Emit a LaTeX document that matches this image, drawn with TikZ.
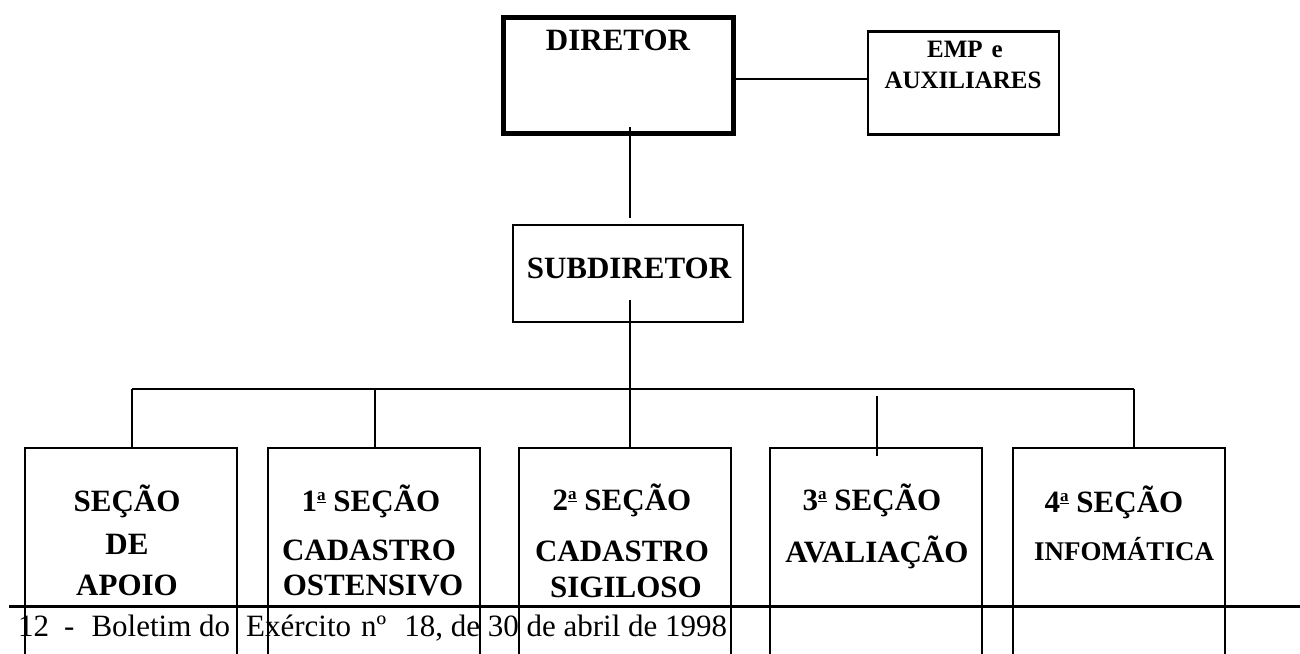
\documentclass[tikz,border=0pt]{standalone}
\usepackage{fontspec}
\setmainfont{Liberation Serif}
\newcommand\myord{\raisebox{10.5pt}{\fontsize{17}{17}\selectfont\underline{a}}}
\begin{document}
\begin{tikzpicture}[x=1pt,y=-1pt,
  conn/.style={line width=2.8pt},
  box/.style={draw,line width=2.8pt,inner sep=0pt,outer sep=0pt},
  bigbox/.style={draw,line width=5pt,inner sep=0pt,outer sep=0pt},
  lbl/.style={font=\fontsize{31}{36}\selectfont\bfseries,inner sep=0pt,anchor=base},
  small/.style={font=\fontsize{25}{30}\selectfont\bfseries,inner sep=0pt,anchor=base},
  foot/.style={font=\fontsize{31}{36}\selectfont,inner sep=0pt,anchor=base west}]
\clip (0,0) rectangle (1300,653);
\fill[white] (0,0) rectangle (1300,653);
% top level
\node[bigbox,minimum width=230pt,minimum height=116pt] (dir) at (618,75) {};
\node[lbl] (dirt) at (618,50) {DIRETOR};
\node[box,minimum width=191pt,minimum height=103pt] (emp) at (963.5,83) {};
\node[small] (empt1) at (965,57) {EMP\hspace{9pt}e};
\node[small] (empt2) at (963,88) {AUXILIARES};
\node[box,minimum width=230pt,minimum height=97pt] (sub) at (628,273.5) {};
\node[lbl] (subt) at (629,278) {SUBDIRETOR};
% sections
\node[box,minimum width=212pt,minimum height=252pt] (s1) at (131,574) {};
\node[box,minimum width=212pt,minimum height=252pt] (s2) at (374,574) {};
\node[box,minimum width=212pt,minimum height=252pt] (s3) at (625,574) {};
\node[box,minimum width=212pt,minimum height=252pt] (s4) at (876,574) {};
\node[box,minimum width=212pt,minimum height=252pt] (s5) at (1119,574) {};
\node[lbl] (s1a) at (127,511) {SEÇÃO};
\node[lbl] (s1b) at (127,554) {DE};
\node[lbl] (s1c) at (127,595) {APOIO};
\node[lbl] (s2a) at (371,511) {1\myord\ SEÇÃO};
\node[lbl] (s2b) at (369,560) {CADASTRO};
\node[lbl] (s2c) at (373,595) {OSTENSIVO};
\node[lbl] (s3a) at (622,510) {2\myord\ SEÇÃO};
\node[lbl] (s3b) at (622,561) {CADASTRO};
\node[lbl] (s3c) at (626,597) {SIGILOSO};
\node[lbl] (s4a) at (872,510) {3\myord\ SEÇÃO};
\node[lbl] (s4b) at (877,562) {AVALIAÇÃO};
\node[lbl] (s5a) at (1114,512) {4\myord\ SEÇÃO};
\node[lbl,font=\fontsize{27}{32}\selectfont\bfseries] (s5b) at (1124,560) {INFOMÁTICA};
% connectors
\draw[conn] ([yshift=-4pt]dir.east) -- ([yshift=4pt]emp.west);
\coordinate (d1) at (630,127);
\coordinate (d2) at (630,218);
\draw[conn] (d1) -- (d2);
\coordinate (u1) at (630,300);
\coordinate (bm) at (630,389);
\coordinate (bl) at (132,389);
\coordinate (br) at (1134,389);
\draw[conn] (u1) -- (bm);
\draw[conn] (bl) -- (br);
\draw[conn] (bl) -- (s1.north -| bl);
\coordinate (b2) at (375,389);
\draw[conn] (b2) -- (s2.north -| b2);
\draw[conn] (bm) -- (s3.north -| bm);
\coordinate (b4) at (877,396);
\coordinate (b4e) at (877,456);
\draw[conn] (b4) -- (b4e);
\draw[conn] (br) -- (s5.north -| br);
% page footer
\draw[line width=3pt] (9,606) -- (1300,606);
\node[foot] (footer) at (18,636) {12\hspace{15pt}-\hspace{17pt}Boletim do\hspace{16pt}Exército\hspace{10pt}nº\hspace{18pt}18, de 30 de abril de 1998};
\end{tikzpicture}
\end{document}
